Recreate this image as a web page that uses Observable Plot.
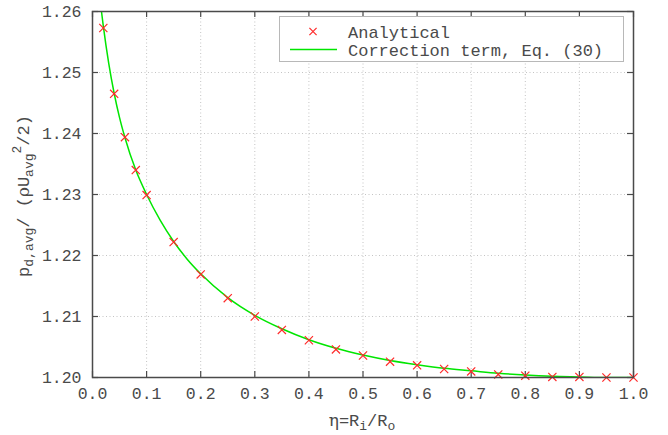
<!DOCTYPE html>
<html><head><meta charset="utf-8">
<script src="https://cdn.jsdelivr.net/npm/d3@7"></script>
<script src="https://cdn.jsdelivr.net/npm/@observablehq/plot@0.6"></script>
<style>body{margin:0;background:#fff}</style>
</head><body><div id="chart"></div>
<script>
// Analytical points (red crosses)
const analyticalEta = [0.02,0.04,0.06,0.08,0.10,0.15,0.20,0.25,0.30,0.35,0.40,0.45,0.50,0.55,0.60,0.65,0.70,0.75,0.80,0.85,0.90,0.95,1.00];
const analyticalP   = [1.2573,1.2465,1.2394,1.2340,1.2299,1.2222,1.2169,1.2130,1.2100,1.2078,1.2061,1.2046,1.2036,1.2026,1.2020,1.2014,1.2010,1.2005,1.2003,1.2001,1.2001,1.2000,1.2000];
// Correction term curve (green line)
const curveEta = [0.0166,0.02,0.03,0.04,0.05,0.06,0.08,0.10,0.125,0.15,0.175,0.20,0.25,0.30,0.35,0.40,0.45,0.50,0.55,0.60,0.65,0.70,0.75,0.80,0.85,0.90,0.95,1.00];
const curveP   = [1.2600,1.2576,1.2515,1.2466,1.2426,1.2393,1.2340,1.2300,1.2258,1.2223,1.2194,1.2170,1.2131,1.2102,1.2080,1.2062,1.2048,1.2037,1.2028,1.2021,1.2015,1.2011,1.2007,1.2004,1.2002,1.2001,1.2000,1.2000];
const xTicks = [0,0.1,0.2,0.3,0.4,0.5,0.6,0.7,0.8,0.9,1.0];
const yTicks = [1.20,1.21,1.22,1.23,1.24,1.25,1.26];
const xTickLabels = ["0.0","0.1","0.2","0.3","0.4","0.5","0.6","0.7","0.8","0.9","1.0"];
const yTickLabels = ["1.20","1.21","1.22","1.23","1.24","1.25","1.26"];
const seriesNames = ["Analytical","Correction term, Eq. (30)"];

const W = 668, H = 435, mL = 92, mR = 35, mT = 11, mB = 58;
const xDom = [0, 1], yDom = [1.20, 1.26];
const tickPx = 6;
const dxT = (xDom[1]-xDom[0]) * tickPx / (W - mL - mR);
const dyT = (yDom[1]-yDom[0]) * tickPx / (H - mT - mB);
const FONT = "'Liberation Mono', 'Courier New', monospace";
const GRAY = "#4a4a4a";
const RED = "#ff2a2a", GREEN = "#00e600";

const pts = analyticalEta.map((e,i)=>({x:e, y:analyticalP[i]}));
const crv = curveEta.map((e,i)=>({x:e, y:curveP[i]}));
const inner = (arr) => arr.slice(1, -1);

const chart = Plot.plot({
  width: W, height: H,
  marginLeft: mL, marginRight: mR, marginTop: mT, marginBottom: mB,
  style: {fontFamily: FONT, fontSize: "16.5px", color: GRAY, background: "#fff"},
  x: {domain: xDom},
  y: {domain: yDom},
  marks: [
    Plot.ruleX(inner(xTicks), {x: d=>d, stroke: "#c4c4c4", strokeDasharray: "1,2.5", strokeWidth: 1}),
    Plot.ruleY(inner(yTicks), {y: d=>d, stroke: "#c4c4c4", strokeDasharray: "1,2.5", strokeWidth: 1}),
    Plot.ruleX(xTicks, {x: d=>d, y1: yDom[0], y2: yDom[0]+dyT, stroke: GRAY, strokeWidth: 1.2}),
    Plot.ruleX(xTicks, {x: d=>d, y1: yDom[1], y2: yDom[1]-dyT, stroke: GRAY, strokeWidth: 1.2}),
    Plot.ruleY(yTicks, {y: d=>d, x1: xDom[0], x2: xDom[0]+dxT, stroke: GRAY, strokeWidth: 1.2}),
    Plot.ruleY(yTicks, {y: d=>d, x1: xDom[1], x2: xDom[1]-dxT, stroke: GRAY, strokeWidth: 1.2}),
    Plot.line(crv, {x: "x", y: "y", stroke: GREEN, strokeWidth: 1.5, curve: "monotone-x", clip: true}),
    Plot.dot(pts, {x: "x", y: "y", symbol: "times", r: 3.8, stroke: RED, strokeWidth: 1.2}),
    Plot.frame({stroke: GRAY, strokeWidth: 1.5}),
    Plot.axisX(xTicks, {tickSize: 0, tickPadding: 10, tickFormat: (d,i)=>xTickLabels[i], label: null}),
    Plot.axisY(yTicks, {tickSize: 0, tickPadding: 11, tickFormat: (d,i)=>yTickLabels[i], label: null})
  ]
});
document.getElementById("chart").appendChild(chart);

const svg = d3.select(chart);
// Legend
const lg = svg.append("g").attr("font-family", FONT).attr("font-size", "17px").attr("fill", GRAY)
  .attr("text-anchor", "start");
lg.append("rect").attr("x", 279.5).attr("y", 16.5).attr("width", 344).attr("height", 45)
  .attr("fill", "#fff").attr("stroke", "#b8b8b8").attr("stroke-width", 1);
const mx = 313, my = 31.5, s = 3.6;
lg.append("path").attr("d", `M${mx-s},${my-s}L${mx+s},${my+s}M${mx-s},${my+s}L${mx+s},${my-s}`)
  .attr("stroke", RED).attr("stroke-width", 1.2).attr("fill", "none");
lg.append("line").attr("x1", 290).attr("x2", 337).attr("y1", 49.5).attr("y2", 49.5)
  .attr("stroke", GREEN).attr("stroke-width", 1.5);
lg.append("text").attr("x", 348).attr("y", 32).attr("dy", "0.35em").attr("text-anchor", "start").text(seriesNames[0]);
lg.append("text").attr("x", 348).attr("y", 50).attr("dy", "0.35em").attr("text-anchor", "start").text(seriesNames[1]);

// X label
const xl = svg.append("text").attr("x", 362).attr("y", 426).attr("text-anchor", "middle")
  .attr("font-family", FONT).attr("font-size", "17px").attr("fill", GRAY);
xl.append("tspan").attr("font-family", "'DejaVu Serif', serif").text("η");
xl.append("tspan").text("=R");
xl.append("tspan").attr("font-size", "13px").attr("dy", "4").text("i");
xl.append("tspan").attr("dy", "-4").text("/R");
xl.append("tspan").attr("font-size", "13px").attr("dy", "4").text("o");

// Y label
const yl = svg.append("text").attr("transform", "translate(29,196) rotate(-90)").attr("text-anchor", "middle")
  .attr("font-family", FONT).attr("font-size", "17px").attr("fill", GRAY);
yl.append("tspan").text("p");
yl.append("tspan").attr("font-size", "13px").attr("dy", "4").text("d,avg");
yl.append("tspan").attr("dy", "-4").text("/ (");
yl.append("tspan").attr("font-family", "'DejaVu Serif', serif").text("ρ");
yl.append("tspan").text("U");
yl.append("tspan").attr("font-size", "13px").attr("dy", "4").text("avg");
yl.append("tspan").attr("font-size", "13px").attr("dy", "-12").text("2");
yl.append("tspan").attr("dy", "8").text("/2)");
</script>
</body></html>
